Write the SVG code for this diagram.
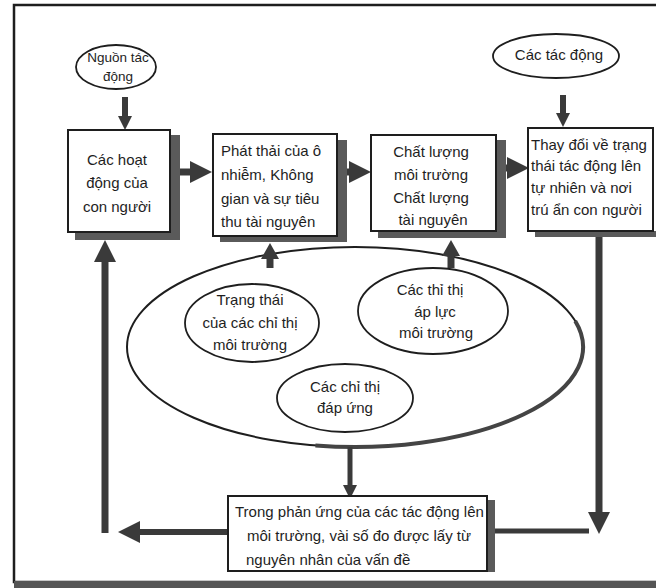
<svg xmlns="http://www.w3.org/2000/svg" width="656" height="588" viewBox="0 0 656 588">
<style>
text{font-family:"Liberation Sans","DejaVu Sans",sans-serif;font-size:15px;fill:#1e1e1e}
.c{text-anchor:middle}
.box{fill:#fff;stroke:#1e1e1e;stroke-width:2}
.sh{fill:#5a5a5a}
.ell{fill:#fff;stroke:#1e1e1e;stroke-width:1.8}
.ar{fill:none;stroke:#3a3a3a}
</style>
<defs>
<marker id="big" markerUnits="userSpaceOnUse" markerWidth="22" markerHeight="22" refX="0" refY="11" orient="auto"><path d="M0,0 L22,11 L0,22 Z" fill="#3a3a3a"/></marker>
<marker id="med" markerUnits="userSpaceOnUse" markerWidth="16" markerHeight="18" refX="0" refY="9" orient="auto"><path d="M0,0 L16,9 L0,18 Z" fill="#3a3a3a"/></marker>
<marker id="small" markerUnits="userSpaceOnUse" markerWidth="14" markerHeight="14" refX="0" refY="7" orient="auto"><path d="M0,0 L14,7 L0,14 Z" fill="#3a3a3a"/></marker>
</defs>
<rect width="656" height="588" fill="#fff"/>
<g id="frame">
<rect x="14" y="5" width="660" height="577" fill="none" stroke="#1e1e1e" stroke-width="2.5"/>
<rect x="14" y="581" width="642" height="7" fill="#555"/>
</g>
<g id="big-ellipse">
<ellipse cx="355" cy="347" rx="228" ry="100" fill="none" stroke="#1e1e1e" stroke-width="2"/>
<path d="M575.2,321 A228,100 0 0 1 315.4,445.5" fill="none" stroke="#444" stroke-width="4"/>
</g>
<g id="connectors">
<path class="ar" d="M125,97 L125,116" stroke-width="6" marker-end="url(#small)"/>
<path class="ar" d="M180,172 L190,172" stroke-width="7" marker-end="url(#big)"/>
<path class="ar" d="M346,172 L349,172" stroke-width="7" marker-end="url(#big)"/>
<path class="ar" d="M505,168 L507,168" stroke-width="7" marker-end="url(#big)"/>
<path class="ar" d="M563,95 L563,113" stroke-width="6" marker-end="url(#small)"/>
<path class="ar" d="M270,268 L270,259" stroke-width="7" marker-end="url(#med)"/>
<path class="ar" d="M451,268 L451,256" stroke-width="7" marker-end="url(#med)"/>
<path class="ar" d="M105,533 L105,262" stroke-width="7" marker-end="url(#big)"/>
<path class="ar" d="M228,532 L140,532" stroke-width="6" marker-end="url(#big)"/>
<path class="ar" d="M350,447 L350,485" stroke-width="5" marker-end="url(#small)"/>
<path class="ar" d="M599,236 L599,512" stroke-width="7" marker-end="url(#big)"/>
<path class="ar" d="M495,531 L589,531" stroke-width="5"/>
</g>
<g id="n-nguon">
<ellipse class="ell" cx="116" cy="67" rx="40" ry="22"/>
<text class="c" x="118" y="62" style="font-size:13.5px">Nguồn tác</text>
<text class="c" x="118" y="81" style="font-size:13.5px">động</text>
</g>
<g id="n-cactacdong">
<ellipse class="ell" cx="556" cy="56" rx="63" ry="22"/>
<text class="c" x="559" y="60">Các tác động</text>
</g>
<g id="n-hoatdong">
<rect class="sh" x="170" y="135" width="10" height="105"/>
<rect class="sh" x="75" y="232" width="105" height="8"/>
<rect class="box" x="68" y="130" width="102" height="102"/>
<text class="c" x="117" y="165">Các hoạt</text>
<text class="c" x="117" y="188">động của</text>
<text class="c" x="117" y="212">con người</text>
</g>
<g id="n-phatthai">
<rect class="sh" x="337" y="140" width="10" height="102"/>
<rect class="sh" x="220" y="236" width="127" height="6"/>
<rect class="box" x="213" y="134" width="124" height="102"/>
<text x="221" y="156">Phát thải của ô</text>
<text x="221" y="180">nhiễm, Không</text>
<text x="221" y="204">gian và sự tiêu</text>
<text x="221" y="227">thu tài nguyên</text>
</g>
<g id="n-chatluong">
<rect class="sh" x="496" y="140" width="10" height="98"/>
<rect class="sh" x="378" y="231" width="128" height="7"/>
<rect class="box" x="371" y="135" width="125" height="96"/>
<text class="c" x="431" y="157">Chất lượng</text>
<text class="c" x="431" y="180">môi trường</text>
<text class="c" x="431" y="203">Chất lượng</text>
<text class="c" x="433" y="225">tài nguyên</text>
</g>
<g id="n-thaydoi">
<rect class="sh" x="535" y="231" width="121" height="6"/>
<rect class="box" x="528" y="128" width="125" height="103"/>
<text x="531" y="150">Thay đổi về trạng</text>
<text x="531" y="171">thái tác động lên</text>
<text x="531" y="193">tự nhiên và nơi</text>
<text x="531" y="215">trú ẩn con người</text>
</g>
<g id="n-trangthai">
<ellipse class="ell" cx="252" cy="323" rx="67" ry="39"/>
<text class="c" x="250" y="305">Trạng thái</text>
<text class="c" x="250" y="328">của các chỉ thị</text>
<text class="c" x="250" y="350">môi trường</text>
</g>
<g id="n-apluc">
<ellipse class="ell" cx="433" cy="311" rx="75" ry="43"/>
<text class="c" x="430" y="295">Các thỉ thị</text>
<text class="c" x="435" y="317">áp lực</text>
<text class="c" x="436" y="338">môi trường</text>
</g>
<g id="n-dapung">
<ellipse class="ell" cx="345" cy="398" rx="68" ry="34"/>
<text class="c" x="345" y="392">Các chỉ thị</text>
<text class="c" x="345" y="413">đáp ứng</text>
</g>
<g id="n-phanung">
<rect class="sh" x="487" y="500" width="8" height="72"/>
<rect class="box" x="228" y="496" width="259" height="75"/>
<text x="235" y="517">Trong phản ứng của các tác động lên</text>
<text x="247" y="541">môi trường, vài số đo được lấy từ</text>
<text x="246" y="565">nguyên nhân của vấn đề</text>
</g>
</svg>
